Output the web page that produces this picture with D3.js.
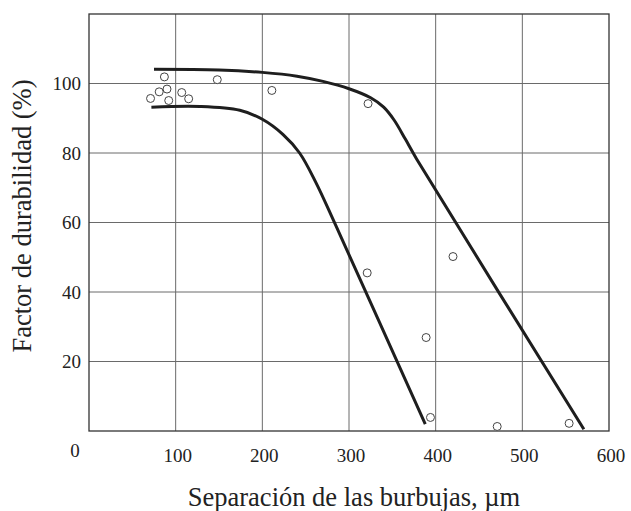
<!DOCTYPE html>
<html>
<head>
<meta charset="utf-8">
<script src="https://cdn.jsdelivr.net/npm/d3@7"></script>
<style>
  body { margin: 0; background: #fff; }
  text { font-family: "Liberation Serif", "Times New Roman", Times, serif; }
  .tick-label { font-size: 19px; fill: #222; }
  .axis-title { font-size: 26.5px; fill: #222; }
</style>
</head>
<body>
<div id="chart"></div>
<script>
// Durability factor vs bubble spacing
const W = 631, H = 511;
const margin = { top: 14, right: 22, bottom: 80, left: 89 };
const width = W - margin.left - margin.right;
const height = H - margin.top - margin.bottom;

const xTicks = [100, 200, 300, 400, 500, 600];
const yTicks = [20, 40, 60, 80, 100];

// measured points (spacing um, durability %)
const pointX = [71, 81, 87, 90, 92, 107, 115, 148, 211, 322, 321, 420, 389, 394, 471, 554];
const pointY = [95.7, 97.6, 101.9, 98.4, 95.1, 97.4, 95.6, 101.1, 98, 94.2, 45.5, 50.2, 26.9, 3.9, 1.3, 2.2];

// upper envelope curve
const upperX = [75, 150, 200, 240, 270, 300, 325, 340, 352, 365, 378, 571];
const upperY = [104.1, 103.9, 103.2, 102.1, 100.6, 98.5, 95.9, 93.2, 89.5, 84, 78.3, 0.5];

// lower envelope curve
const lowerX = [72, 128, 174, 200, 224, 243, 262, 285, 388];
const lowerY = [93.2, 93.4, 92.3, 89.7, 85.3, 80, 71.4, 59, 2];

const svg = d3.select('#chart').append('svg')
  .attr('width', W)
  .attr('height', H);

const g = svg.append('g')
  .attr('transform', `translate(${margin.left},${margin.top})`);

const x = d3.scaleLinear().domain([0, 600]).range([0, width]);
const y = d3.scaleLinear().domain([0, 120]).range([height, 0]);

// grid
g.selectAll('.vgrid')
  .data(xTicks.slice(0, -1))
  .enter().append('line')
  .attr('x1', d => x(d)).attr('x2', d => x(d))
  .attr('y1', 0).attr('y2', height)
  .attr('stroke', '#6a6a6a').attr('stroke-width', 1);

g.selectAll('.hgrid')
  .data(yTicks)
  .enter().append('line')
  .attr('x1', 0).attr('x2', width)
  .attr('y1', d => y(d)).attr('y2', d => y(d))
  .attr('stroke', '#6a6a6a').attr('stroke-width', 1);

// frame
g.append('rect')
  .attr('width', width).attr('height', height)
  .attr('fill', 'none')
  .attr('stroke', '#333').attr('stroke-width', 1.3);

// tick labels
g.selectAll('.xl')
  .data(xTicks)
  .enter().append('text')
  .attr('class', 'tick-label')
  .attr('x', d => x(d) + 2)
  .attr('y', height + 31)
  .attr('text-anchor', 'middle')
  .text(d => d);

g.selectAll('.yl')
  .data(yTicks)
  .enter().append('text')
  .attr('class', 'tick-label')
  .attr('x', -8)
  .attr('y', d => y(d))
  .attr('dy', '0.35em')
  .attr('text-anchor', 'end')
  .text(d => d);

g.append('text')
  .attr('class', 'tick-label')
  .attr('x', -14)
  .attr('y', height + 26)
  .attr('text-anchor', 'middle')
  .text('0');

// curves
const line = d3.line()
  .x(d => x(d[0]))
  .y(d => y(d[1]))
  .curve(d3.curveCatmullRom.alpha(0.5));

[[upperX, upperY], [lowerX, lowerY]].forEach(([xs, ys]) => {
  g.append('path')
    .datum(xs.map((v, i) => [v, ys[i]]))
    .attr('d', line)
    .attr('fill', 'none')
    .attr('stroke', '#1e1e1e')
    .attr('stroke-width', 3);
});

// points
g.selectAll('.pt')
  .data(pointX.map((v, i) => [v, pointY[i]]))
  .enter().append('circle')
  .attr('cx', d => x(d[0]))
  .attr('cy', d => y(d[1]))
  .attr('r', 4)
  .attr('fill', '#fff')
  .attr('stroke', '#444')
  .attr('stroke-width', 1);

// axis titles
svg.append('text')
  .attr('class', 'axis-title')
  .attr('x', 354)
  .attr('y', 506)
  .attr('text-anchor', 'middle')
  .text('Separación de las burbujas, µm');

svg.append('text')
  .attr('class', 'axis-title')
  .attr('transform', 'translate(31,216) rotate(-90)')
  .attr('text-anchor', 'middle')
  .text('Factor de durabilidad (%)');
</script>
</body>
</html>
